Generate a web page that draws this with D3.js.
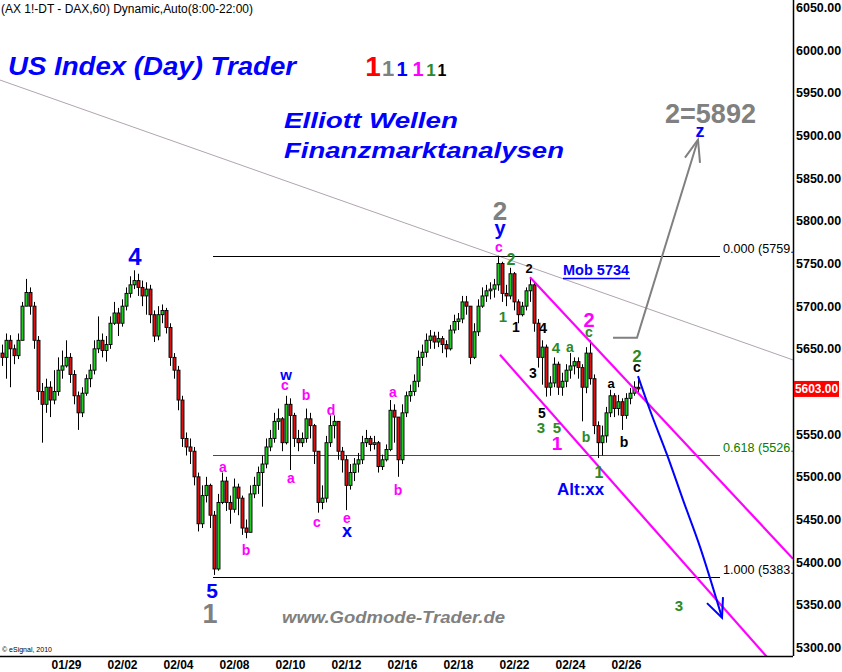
<!DOCTYPE html>
<html><head><meta charset="utf-8">
<script src="https://cdn.jsdelivr.net/npm/d3@7"></script>
<style>
body{margin:0;background:#fff}
svg{display:block}
text{font-family:"Liberation Sans",Arial,sans-serif}
</style>
</head><body>
<svg id="c" width="842" height="672"></svg>
<script>
// ---------- DATA ----------
const firstOpen = 5645;
const closes = [5640,5660,5650,5642,5660,5700,5716,5700,5660,5600,
5585,5605,5590,5600,5625,5630,5640,5620,5595,5575,
5598,5615,5625,5650,5660,5648,5655,5680,5692,5680,
5700,5715,5725,5730,5722,5712,5720,5690,5665,5690,
5695,5675,5640,5625,5590,5545,5535,5530,5500,5445,
5478,5490,5455,5392,5470,5495,5470,5462,5488,5475,
5440,5435,5480,5490,5505,5515,5535,5545,5565,5568,
5540,5585,5572,5545,5540,5545,5568,5560,5530,5470,
5475,5540,5560,5565,5530,5520,5490,5505,5515,5520,
5540,5545,5538,5540,5512,5520,5532,5578,5570,5520,
5575,5595,5600,5612,5640,5646,5660,5665,5658,5662,
5655,5650,5672,5682,5685,5705,5700,5640,5670,5700,
5712,5718,5720,5725,5750,5715,5712,5738,5705,5690,
5700,5718,5725,5680,5640,5652,5605,5610,5632,5605,
5612,5625,5630,5635,5628,5605,5645,5615,5560,5540,
5548,5575,5595,5580,5588,5572,5592,5598,5605,5603];
const highs = [5655,5668,5666,5655,5668,5705,5732,5722,5705,5665,
5610,5615,5612,5625,5640,5648,5660,5645,5625,5600,
5605,5620,5632,5660,5688,5668,5665,5688,5705,5698,
5708,5722,5735,5742,5738,5730,5728,5725,5695,5700,
5702,5698,5680,5645,5630,5595,5552,5545,5535,5505,
5490,5500,5492,5460,5480,5505,5500,5478,5498,5492,
5478,5450,5490,5500,5512,5525,5545,5555,5575,5580,
5570,5595,5592,5575,5555,5552,5580,5575,5562,5530,
5490,5548,5572,5572,5565,5535,5525,5515,5522,5528,
5548,5555,5548,5548,5542,5526,5538,5590,5585,5565,
5585,5600,5608,5620,5648,5655,5668,5672,5670,5670,
5665,5660,5678,5690,5692,5712,5712,5700,5680,5708,
5722,5725,5728,5732,5759,5752,5725,5745,5740,5708,
5705,5722,5734,5728,5685,5660,5655,5618,5640,5635,
5622,5632,5645,5640,5640,5632,5652,5660,5620,5565,
5560,5582,5602,5598,5596,5592,5598,5604,5612,5617];
const lows = [5630,5615,5605,5632,5638,5660,5700,5690,5650,5590,
5540,5575,5570,5585,5595,5615,5628,5610,5585,5555,
5570,5595,5605,5620,5645,5640,5635,5650,5678,5665,
5676,5695,5710,5720,5712,5700,5690,5680,5658,5660,
5680,5668,5630,5615,5578,5535,5525,5515,5490,5436,
5440,5470,5440,5385,5390,5468,5460,5445,5458,5455,
5432,5428,5435,5475,5480,5465,5510,5530,5540,5555,
5530,5538,5508,5535,5530,5535,5540,5545,5515,5458,
5462,5470,5535,5545,5520,5505,5461,5485,5495,5505,
5515,5535,5530,5532,5505,5508,5518,5530,5540,5500,
5515,5570,5588,5595,5605,5630,5640,5650,5650,5652,
5645,5640,5648,5668,5672,5680,5690,5632,5638,5665,
5698,5705,5708,5710,5718,5705,5700,5708,5695,5680,
5688,5695,5705,5670,5628,5608,5594,5595,5605,5596,
5595,5605,5615,5620,5615,5565,5598,5608,5550,5522,
5525,5540,5570,5570,5572,5555,5568,5585,5595,5598];

const dateLabels = ["01/29","02/02","02/04","02/08","02/10","02/12","02/16","02/18","02/22","02/24","02/26"];
const dateIdx    = [16,30,44,58,72,86,100,114,128,142,156];
const yTicks = [5300,5350,5400,5450,5500,5550,5650,5700,5750,5800,5850,5900,5950,6000,6050];
const lastPrice = 5603;

// Fibonacci levels: [label, price, colour]
const fibLevels = [["0.000 (5759.00)",5759,"#000"],["0.618 (5526.00)",5526,"#008000"],["1.000 (5383.00)",5383,"#000"]];
const fibStartIdx = 52.75, fibEndIdx = 179.5;

// lines in (bar index, price)
const trendLine   = [[-0.5,5965],[197.75,5637]];
const upperChan   = [[132,5734],[197.75,5404]];
const lowerChan   = [[124.5,5643],[198,5253]];
const grayArrow   = [[152.75,5663],[158.75,5663],[174,5895]];
const grayBarbs   = [[[170.75,5874],[174,5895],[174.5,5868]]];
const blueArrow   = [[159,5618],[162,5578],[166.25,5526],[170.25,5473],[174.5,5418],[180,5335]];
const blueBarbs   = [[[176.25,5352],[180,5335],[180.25,5359]]];

// wave labels: [text, index, price, colour, size, anchor]
const B="#0000ff", G="#808080", M="#ff00ff", GR="#2a8a2a", K="#000";
const waveLabels = [
 ["4",33.25,5748,B,24],["5",52.5,5358,B,21],["y",124.5,5783,B,20],["w",71,5613,B,15],
 ["x",86.25,5430,B,18],["z",174.5,5898,B,18],["Alt:xx",138.75,5479,B,17,"start"],
 ["2",124.5,5801,G,26],["1",52,5329,G,27],
 ["a",55.25,5506,M,14],["b",61,5408,M,14],["c",70.75,5602,M,14],["a",72.25,5493,M,14],
 ["b",76,5590,M,14],["d",82.25,5572,M,14],["c",78.75,5441,M,14],["e",86.25,5446,M,14],
 ["b",99,5479,M,14],["a",97.75,5594,M,14],["c",124.25,5763,M,14],["2",146.75,5676,M,20],["1",138.75,5531,M,19],
 ["2",127.25,5748,GR,16],["1",125.25,5681,GR,15],["4",138.5,5645,GR,15],["a",142,5646,GR,14],
 ["c",146.75,5664,GR,14],["3",134.75,5551,GR,15],["5",138.75,5551,GR,15],["b",146,5541,GR,14],
 ["1",149.25,5499,GR,16],["2",158.75,5635,GR,17],["3",169.25,5343,GR,15],
 ["2",131.75,5739,K,13],["1",128.5,5670,K,14],["4",135.25,5669,K,15],["3",132.75,5616,K,14],
 ["5",135,5569,K,14],["a",152.25,5604,K,13],["b",155.5,5535,K,14],["c",158.75,5623,K,14]
];
const legendOnes = [["1","#ff0000",28],["1","#808080",22],["1","#0000ff",20],["1","#ff00ff",20],["1","#2a8a2a",17],["1","#000",16]];

// ---------- DRAW ----------
const W=842,H=672, plotR=793, plotB=656;
const svg=d3.select("#c");
const x=d3.scaleLinear().domain([-0.5,197.75]).range([0,plotR]);
const y=d3.scaleLinear().domain([5300,6050]).range([647.5,7.5]);

svg.append("rect").attr("width",W).attr("height",H).attr("fill","#fff");
svg.append("clipPath").attr("id","pc").append("rect").attr("x",0).attr("y",0).attr("width",plotR).attr("height",plotB);
const g=svg.append("g").attr("clip-path","url(#pc)");
const line=d3.line().x(d=>x(d[0])).y(d=>y(d[1]));

// trendline
g.append("path").attr("d",line(trendLine)).attr("fill","none").attr("stroke","#b0a4b0").attr("stroke-width",1);

// fib
fibLevels.forEach(f=>{
  g.append("line").attr("x1",x(fibStartIdx)).attr("x2",x(fibEndIdx)).attr("y1",Math.round(y(f[1]))+0.5).attr("y2",Math.round(y(f[1]))+0.5)
   .attr("stroke",f[2]).attr("stroke-width",1.2);
  g.append("text").attr("x",x(fibEndIdx)+3).attr("y",y(f[1])-3).attr("fill",f[2]).attr("font-size",12.6).text(f[0]);
});

// candles
const opens = closes.map((c,i)=> i===0?firstOpen:closes[i-1]);
const bars = closes.map((c,i)=>({i,o:opens[i],c,h:Math.max(highs[i],opens[i],c),l:Math.min(lows[i],opens[i],c)}));
const cg=g.append("g");
cg.selectAll("line.w").data(bars).join("line")
 .attr("x1",d=>Math.round(x(d.i))+0.5).attr("x2",d=>Math.round(x(d.i))+0.5)
 .attr("y1",d=>y(d.h)).attr("y2",d=>y(d.l)).attr("stroke","#000").attr("stroke-width",1);
cg.selectAll("rect").data(bars).join("rect")
 .attr("x",d=>Math.round(x(d.i))-1).attr("width",3)
 .attr("y",d=>y(Math.max(d.o,d.c))).attr("height",d=>Math.max(1,Math.abs(y(d.o)-y(d.c))))
 .attr("fill",d=>d.c>=d.o?"#22cc22":"#dd1111").attr("stroke","#000").attr("stroke-width",0.9);

// channel
[upperChan,lowerChan].forEach(l=>g.append("path").attr("d",line(l)).attr("fill","none").attr("stroke","#ff00ff").attr("stroke-width",2.2));

// arrows
g.append("path").attr("d",line(grayArrow)).attr("fill","none").attr("stroke","#808080").attr("stroke-width",2);
grayBarbs.forEach(b=>g.append("path").attr("d",line(b)).attr("fill","none").attr("stroke","#808080").attr("stroke-width",2));
g.append("path").attr("d",d3.line().x(d=>x(d[0])).y(d=>y(d[1])).curve(d3.curveMonotoneX)(blueArrow)).attr("fill","none").attr("stroke","#0000ff").attr("stroke-width",2);
blueBarbs.forEach(b=>g.append("path").attr("d",line(b)).attr("fill","none").attr("stroke","#0000ff").attr("stroke-width",2));

// wave labels
g.selectAll("text.wl").data(waveLabels).join("text").attr("class","wl")
 .attr("x",d=>x(d[1])).attr("y",d=>y(d[2])).attr("text-anchor",d=>d[5]||"middle")
 .attr("fill",d=>d[3]).attr("font-size",d=>d[4]).attr("font-weight","bold").text(d=>d[0]);

// Mob 5734
g.append("text").attr("x",563).attr("y",275).attr("fill","#0000ff").attr("font-size",14.5).attr("font-weight","bold").text("Mob 5734");
g.append("line").attr("x1",563).attr("x2",630).attr("y1",278.5).attr("y2",278.5).attr("stroke","#0000ff").attr("stroke-width",1.5);

// target text
g.append("text").attr("x",665).attr("y",123).attr("fill","#808080").attr("font-size",27).attr("font-weight","bold").attr("textLength",91).attr("lengthAdjust","spacingAndGlyphs").text("2=5892");

// titles
svg.append("text").attr("x",1).attr("y",13).attr("font-size",12).attr("fill","#000").attr("textLength",252).attr("lengthAdjust","spacingAndGlyphs").text("(AX 1!-DT - DAX,60) Dynamic,Auto(8:00-22:00)");
const ti=(t,xx,yy,len,fs,col)=>svg.append("text").attr("x",xx).attr("y",yy).attr("fill",col).attr("font-size",fs).attr("font-weight","bold").attr("font-style","italic").attr("textLength",len).attr("lengthAdjust","spacingAndGlyphs").text(t);
ti("US Index (Day) Trader",8,75,288,25,"#0000ff");
ti("Elliott Wellen",284,128,174,22,"#0000ff");
ti("Finanzmarktanalysen",284,158,280,22,"#0000ff");
ti("www.Godmode-Trader.de",282,623,223,16,"#808080");
const onesX=[373,388,402,418,431,442];
legendOnes.forEach((d,i)=>svg.append("text").attr("x",onesX[i]).attr("y",76).attr("text-anchor","middle").attr("fill",d[1]).attr("font-size",d[2]).attr("font-weight","bold").text(d[0]));
svg.append("text").attr("x",2).attr("y",652).attr("font-size",7).attr("fill","#000").text("© eSignal, 2010");

// frame
svg.append("line").attr("x1",0).attr("x2",plotR).attr("y1",plotB+0.5).attr("y2",plotB+0.5).attr("stroke","#000").attr("stroke-width",1.5);
svg.append("line").attr("x1",plotR+0.5).attr("x2",plotR+0.5).attr("y1",0).attr("y2",plotB).attr("stroke","#000").attr("stroke-width",1.5);

// axes
const ya=svg.append("g").attr("transform",`translate(${plotR},0)`)
 .call(d3.axisRight(y).tickValues(yTicks).tickSize(0).tickPadding(3).tickFormat(d=>d.toFixed(2)));
ya.select(".domain").remove();
ya.selectAll("text").attr("font-size",12.5).attr("font-weight","bold").attr("fill","#000").attr("font-family","'Liberation Sans',Arial,sans-serif");
const xa=svg.append("g").attr("transform",`translate(0,${plotB})`)
 .call(d3.axisBottom(x).tickValues(dateIdx).tickSize(0).tickPadding(4).tickFormat((d,i)=>dateLabels[i]));
xa.select(".domain").remove();
xa.selectAll("text").attr("font-size",12).attr("font-weight","bold").attr("fill","#000").attr("font-family","'Liberation Sans',Arial,sans-serif");

// last price box
svg.append("rect").attr("x",plotR+1).attr("y",y(lastPrice)-8).attr("width",45).attr("height",16).attr("fill","#ff0000");
svg.append("text").attr("x",plotR+2).attr("y",y(lastPrice)+4.5).attr("fill","#fff").attr("font-size",12.5).attr("font-weight","bold").attr("textLength",43).attr("lengthAdjust","spacingAndGlyphs").text(lastPrice.toFixed(2));
</script>
</body></html>
